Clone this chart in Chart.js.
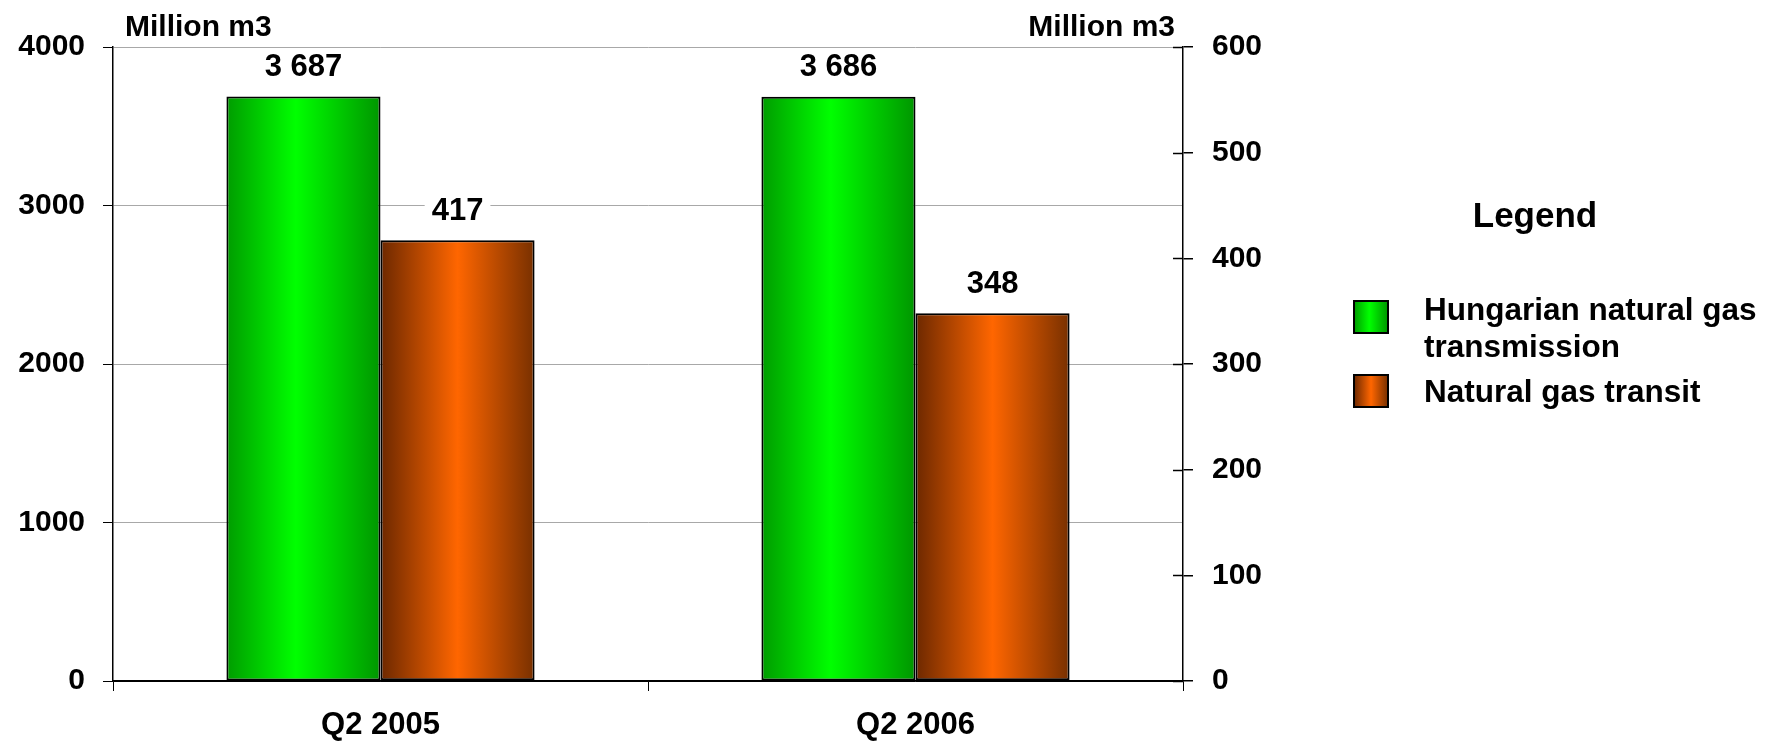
<!DOCTYPE html>
<html>
<head>
<meta charset="utf-8">
<script src="https://cdn.jsdelivr.net/npm/chart.js@4/dist/chart.umd.min.js"></script>
<style>
  html, body { margin: 0; padding: 0; background: #fff; }
  #wrap { width: 1773px; height: 742px; }
</style>
</head>
<body>
<div id="wrap"><canvas id="c" width="1773" height="742"></canvas></div>
<script>
// Gas volumes, million m3
const categories = ['Q2 2005', 'Q2 2006'];
const transmission = [3687, 3686];   // left axis
const transit = [417, 348];          // right axis
const leftTicks = [0, 1000, 2000, 3000, 4000];
const rightTicks = [0, 100, 200, 300, 400, 500, 600];
const seriesNames = ['Hungarian natural gas transmission', 'Natural gas transit'];
const unitLabel = 'Million m3';
const legendTitle = 'Legend';

const FONT = '"Liberation Sans", Arial, Helvetica, sans-serif';

// horizontal "cylinder" shading for each series
const shades = [
  [[0, '#009c00'], [0.45, '#00ff00'], [1, '#009600']],
  [[0, '#6c2800'], [0.5, '#ff6600'], [1, '#783000']]
];

function makeGradient(ctx, x0, x1, stops) {
  const g = ctx.createLinearGradient(x0, 0, x1, 0);
  stops.forEach(s => g.addColorStop(s[0], s[1]));
  return g;
}

function fmt(v) {
  return String(v).replace(/\B(?=(\d{3})+(?!\d))/g, ' ');
}

const shadingPlugin = {
  id: 'shading',
  beforeDatasetsDraw(chart) {
    const ctx = chart.ctx;
    chart.data.datasets.forEach((ds, di) => {
      chart.getDatasetMeta(di).data.forEach(el => {
        const p = el.getProps(['x', 'width'], true);
        const g = makeGradient(ctx, p.x - p.width / 2, p.x + p.width / 2, shades[di]);
        el.options = Object.assign({}, el.options, { backgroundColor: g });
      });
    });
  }
};

const valueLabels = {
  id: 'valueLabels',
  afterDatasetsDraw(chart) {
    const ctx = chart.ctx;
    ctx.save();
    ctx.font = 'bold 31px ' + FONT;
    ctx.textAlign = 'center';
    ctx.textBaseline = 'middle';
    chart.data.datasets.forEach((ds, di) => {
      chart.getDatasetMeta(di).data.forEach((el, i) => {
        const txt = fmt(ds.data[i]);
        const cy = el.y - 30;
        const w = ctx.measureText(txt).width + 14;
        ctx.fillStyle = '#fff';
        ctx.fillRect(el.x - w / 2, cy - 16, w, 32);
        ctx.fillStyle = '#000';
        ctx.fillText(txt, el.x, cy + 1);
      });
    });
    ctx.restore();
  }
};

const extras = {
  id: 'extras',
  afterDraw(chart) {
    const ctx = chart.ctx;
    const yL = chart.scales.y, yR = chart.scales.y1;
    ctx.save();
    // inner half of the right-axis tick marks
    ctx.strokeStyle = '#000';
    ctx.lineWidth = 1.5;
    yR.ticks.forEach(t => {
      const py = Math.round(yR.getPixelForValue(t.value)) + 0.5;
      ctx.beginPath();
      ctx.moveTo(yR.left - 10, py);
      ctx.lineTo(yR.left, py);
      ctx.stroke();
    });
    // unit titles above both axes
    ctx.fillStyle = '#000';
    ctx.font = 'bold 30px ' + FONT;
    ctx.textBaseline = 'alphabetic';
    ctx.textAlign = 'left';
    ctx.fillText(unitLabel, yL.right + 12, 36);
    ctx.textAlign = 'right';
    ctx.fillText(unitLabel, yR.left - 8, 36);

    // legend
    ctx.textAlign = 'center';
    ctx.font = 'bold 35px ' + FONT;
    ctx.fillText(legendTitle, 1535, 227);
    ctx.font = 'bold 31.5px ' + FONT;
    ctx.textAlign = 'left';
    const boxX = 1354, textX = 1424, lineH = 37, maxW = 350;
    const rowY = [301, 375];
    chart.data.datasets.forEach((ds, di) => {
      // wrap the label
      const words = ds.label.split(' ');
      const lines = [];
      let cur = '';
      words.forEach(w => {
        const test = cur ? cur + ' ' + w : w;
        if (ctx.measureText(test).width > maxW && cur) { lines.push(cur); cur = w; }
        else cur = test;
      });
      lines.push(cur);
      const y = rowY[di];
      ctx.fillStyle = makeGradient(ctx, boxX, boxX + 34, shades[di]);
      ctx.fillRect(boxX, y, 34, 32);
      ctx.strokeStyle = '#000';
      ctx.lineWidth = 2;
      ctx.strokeRect(boxX, y, 34, 32);
      ctx.fillStyle = '#000';
      const firstBase = lines.length > 1 ? y + 19 : y + 27;
      lines.forEach((ln, li) => ctx.fillText(ln, textX, firstBase + li * lineH));
    });
    ctx.restore();
  }
};

const tickFont = { family: FONT, size: 30, weight: 'bold' };

new Chart(document.getElementById('c'), {
  type: 'bar',
  data: {
    labels: categories,
    datasets: [
      {
        label: seriesNames[0], data: transmission, yAxisID: 'y',
        backgroundColor: '#00dd00', borderColor: '#000', borderWidth: 2, borderSkipped: false,
        categoryPercentage: 0.576, barPercentage: 1
      },
      {
        label: seriesNames[1], data: transit, yAxisID: 'y1',
        backgroundColor: '#ee5500', borderColor: '#000', borderWidth: 2, borderSkipped: false,
        categoryPercentage: 0.576, barPercentage: 1
      }
    ]
  },
  options: {
    responsive: false,
    animation: false,
    devicePixelRatio: 1,
    layout: { padding: { left: 0, right: 490, top: 47, bottom: 0 } },
    plugins: { legend: { display: false }, tooltip: { enabled: false } },
    scales: {
      x: {
        offset: true,
        grid: { offset: true, drawOnChartArea: false, tickLength: 10, color: '#000', tickColor: '#000' },
        border: { color: '#000', width: 1.5 },
        ticks: { color: '#000', font: { family: FONT, size: 31, weight: 'bold' }, padding: 16 },
        afterFit: s => { s.height = 61; }
      },
      y: {
        position: 'left', min: 0, max: 4000,
        afterBuildTicks: s => { s.ticks = leftTicks.map(v => ({ value: v })); },
        ticks: { color: '#000', font: tickFont, padding: 18, callback: v => String(v) },
        grid: {
          color: c => (c.tick && c.tick.value === 0 ? '#000' : '#a8a8a8'),
          tickColor: '#000', tickLength: 10, lineWidth: 1
        },
        border: { color: '#000', width: 1.5 },
        afterFit: s => { s.width = 113; }
      },
      y1: {
        position: 'right', min: 0, max: 600,
        afterBuildTicks: s => { s.ticks = rightTicks.map(v => ({ value: v })); },
        ticks: { color: '#000', font: tickFont, padding: 19, callback: v => String(v) },
        grid: { drawOnChartArea: false, tickColor: '#000', color: '#000', tickLength: 10, lineWidth: 1.5 },
        border: { color: '#000', width: 1.5 },
        afterFit: s => { s.width = 100; }
      }
    }
  },
  plugins: [shadingPlugin, valueLabels, extras]
});
</script>
</body>
</html>
